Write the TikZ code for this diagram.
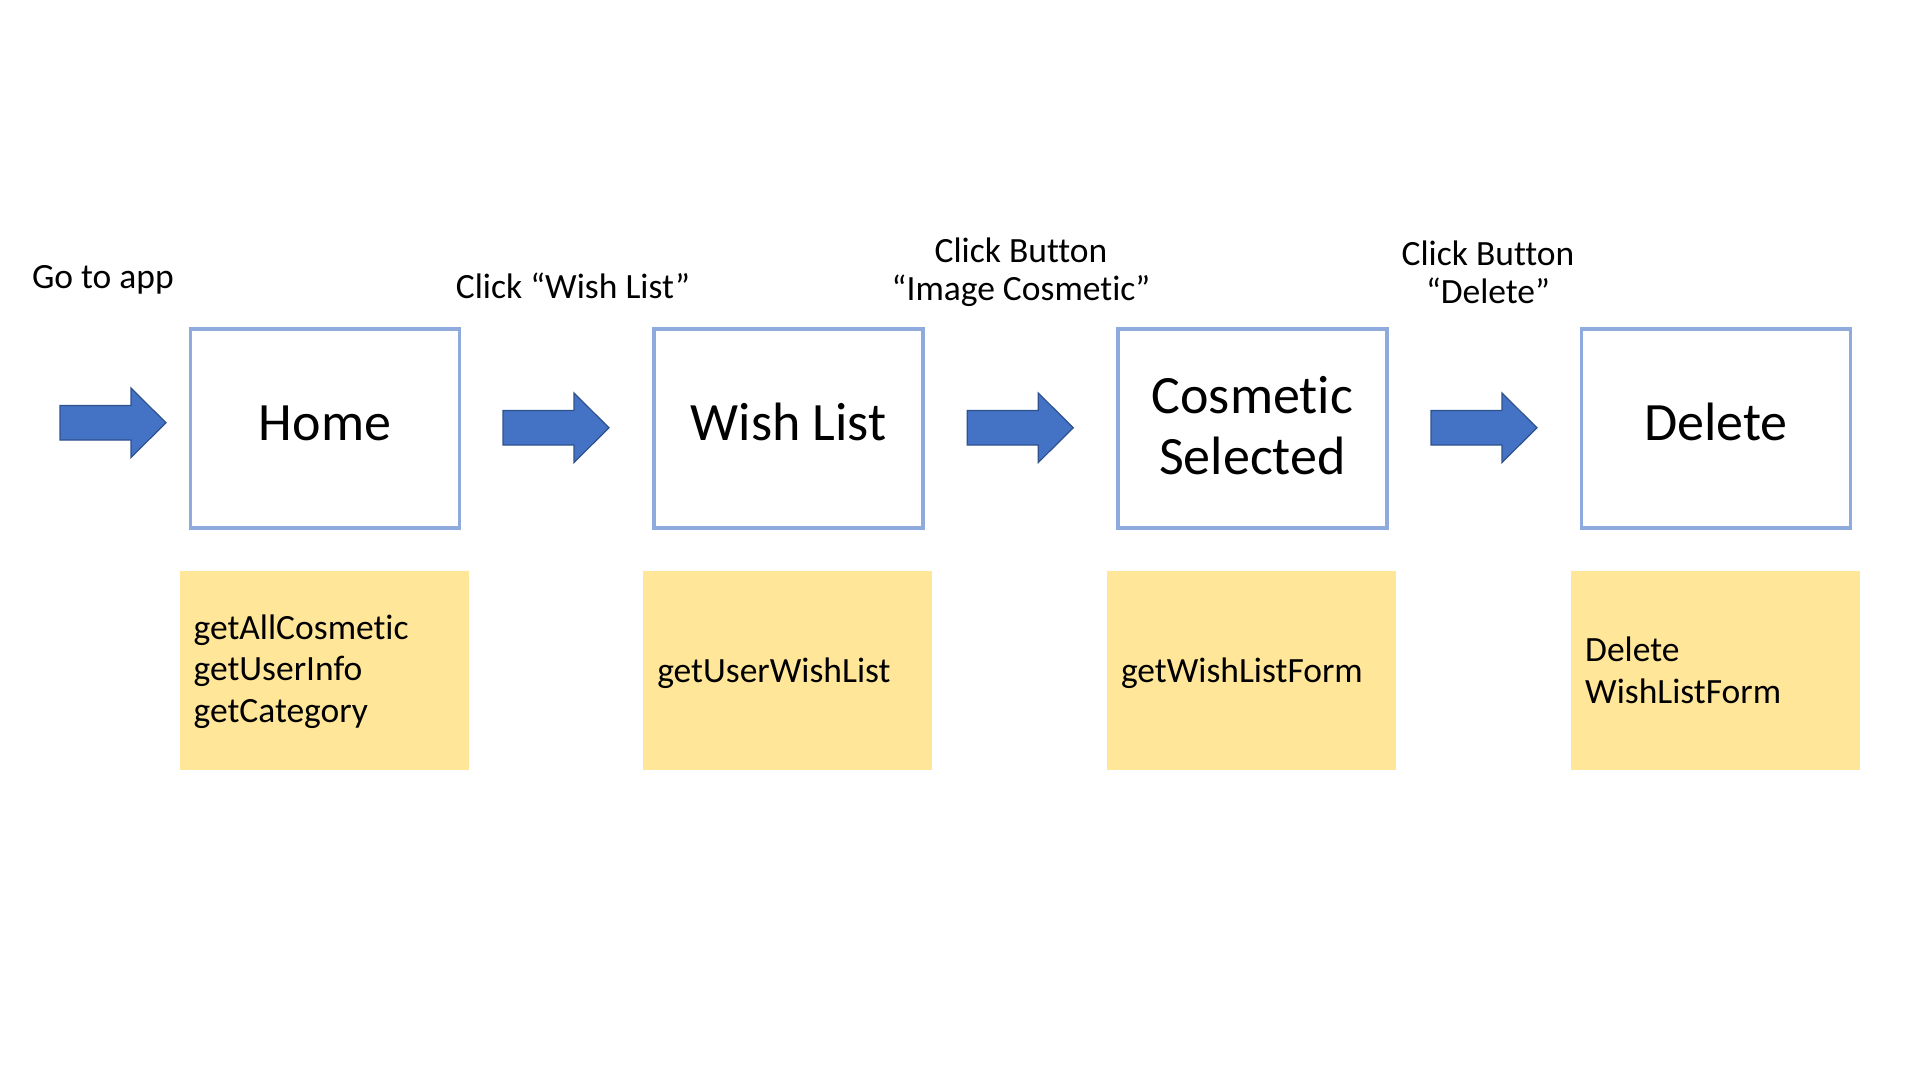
\documentclass[tikz,border=0pt]{standalone}
\usepackage{fontspec}
\setmainfont[Ligatures=NoCommon]{Carlito}
\usetikzlibrary{calc}
\definecolor{boxblue}{HTML}{8FAADC}
\definecolor{arrfill}{HTML}{4472C4}
\definecolor{arrline}{HTML}{2F528F}
\definecolor{notecol}{HTML}{FFE699}
\begin{document}
\begin{tikzpicture}[x=1pt,y=-1pt,
  screen/.style={draw=boxblue, line width=3.5pt, minimum width=269pt, minimum height=199pt, inner sep=0pt, fill=white},
  notebox/.style={fill=notecol, minimum width=289pt, minimum height=199pt, inner sep=0pt},
  bigtext/.style={font=\fontsize{54}{61}\selectfont, inner sep=0pt, align=center},
  smalltext/.style={font=\fontsize{35.5}{41.5}\selectfont, inner sep=0pt},
  blockarr/.pic={\draw[fill=arrfill, draw=arrline, line width=1.2pt, line join=miter]
      (0,-17.25) -- (71,-17.25) -- (71,-34.75) -- (106,0) -- (71,34.75) -- (71,17.25) -- (0,17.25) -- cycle;}
]
\useasboundingbox[fill=white] (0,0) rectangle (1920,1080);

% screens
\node[screen] (home) at (325,428.6) {};
\node[screen] (wish) at (788.7,428.6) {};
\node[screen] (cosm) at (1252.4,428.6) {};
\node[screen] (del)  at (1716.1,428.6) {};

% (base anchor of a multi-line node = baseline of its last line)
\node[bigtext, anchor=base] (homet) at (home.center |- 0,440) {Home};
\node[bigtext, anchor=base] (wisht) at (wish.center |- 0,440) {Wish List};
\node[bigtext, anchor=base] (cosmt) at (cosm.center |- 0,474) {Cosmetic\\Selected};
\node[bigtext, anchor=base] (delt)  at (del.center |- 0,440) {Delete};

% notes
\node[notebox] (n1) at (324.1,670.8) {};
\node[notebox] (n2) at (787.8,670.8) {};
\node[notebox] (n3) at (1251.5,670.8) {};
\node[notebox] (n4) at (1715.7,670.8) {};

\node[smalltext, align=left, anchor=base west] (n1t) at ($(n1.west |- 0,722)+(14,0)$) {getAllCosmetic\\getUserInfo\\getCategory};
\node[smalltext, align=left, anchor=base west] (n2t) at ($(n2.west |- 0,682)+(14,0)$) {getUserWishList};
\node[smalltext, align=left, anchor=base west] (n3t) at ($(n3.west |- 0,682)+(14,0)$) {getWishListForm};
\node[smalltext, align=left, anchor=base west] (n4t) at ($(n4.west |- 0,703)+(14,0)$) {Delete\\WishListForm};

% step labels
\node[smalltext, anchor=base west] (l1) at (31.8,288) {Go to app};
\node[smalltext, anchor=base] (l2) at (573,298) {Click “Wish List”};
\node[smalltext, anchor=base, align=center, font=\fontsize{35.5}{38}\selectfont] (l3) at (1021,300) {Click Button\\“Image Cosmetic”};
\node[smalltext, anchor=base, align=center, font=\fontsize{35.5}{38}\selectfont] (l4) at (1488,303) {Click Button\\“Delete”};

% block arrows
\pic (a1) at (60,422.75) {blockarr};
\pic (a2) at (503,427.75) {blockarr};
\pic (a3) at (967.3,427.75) {blockarr};
\pic (a4) at (1431,427.75) {blockarr};
\end{tikzpicture}
\end{document}
